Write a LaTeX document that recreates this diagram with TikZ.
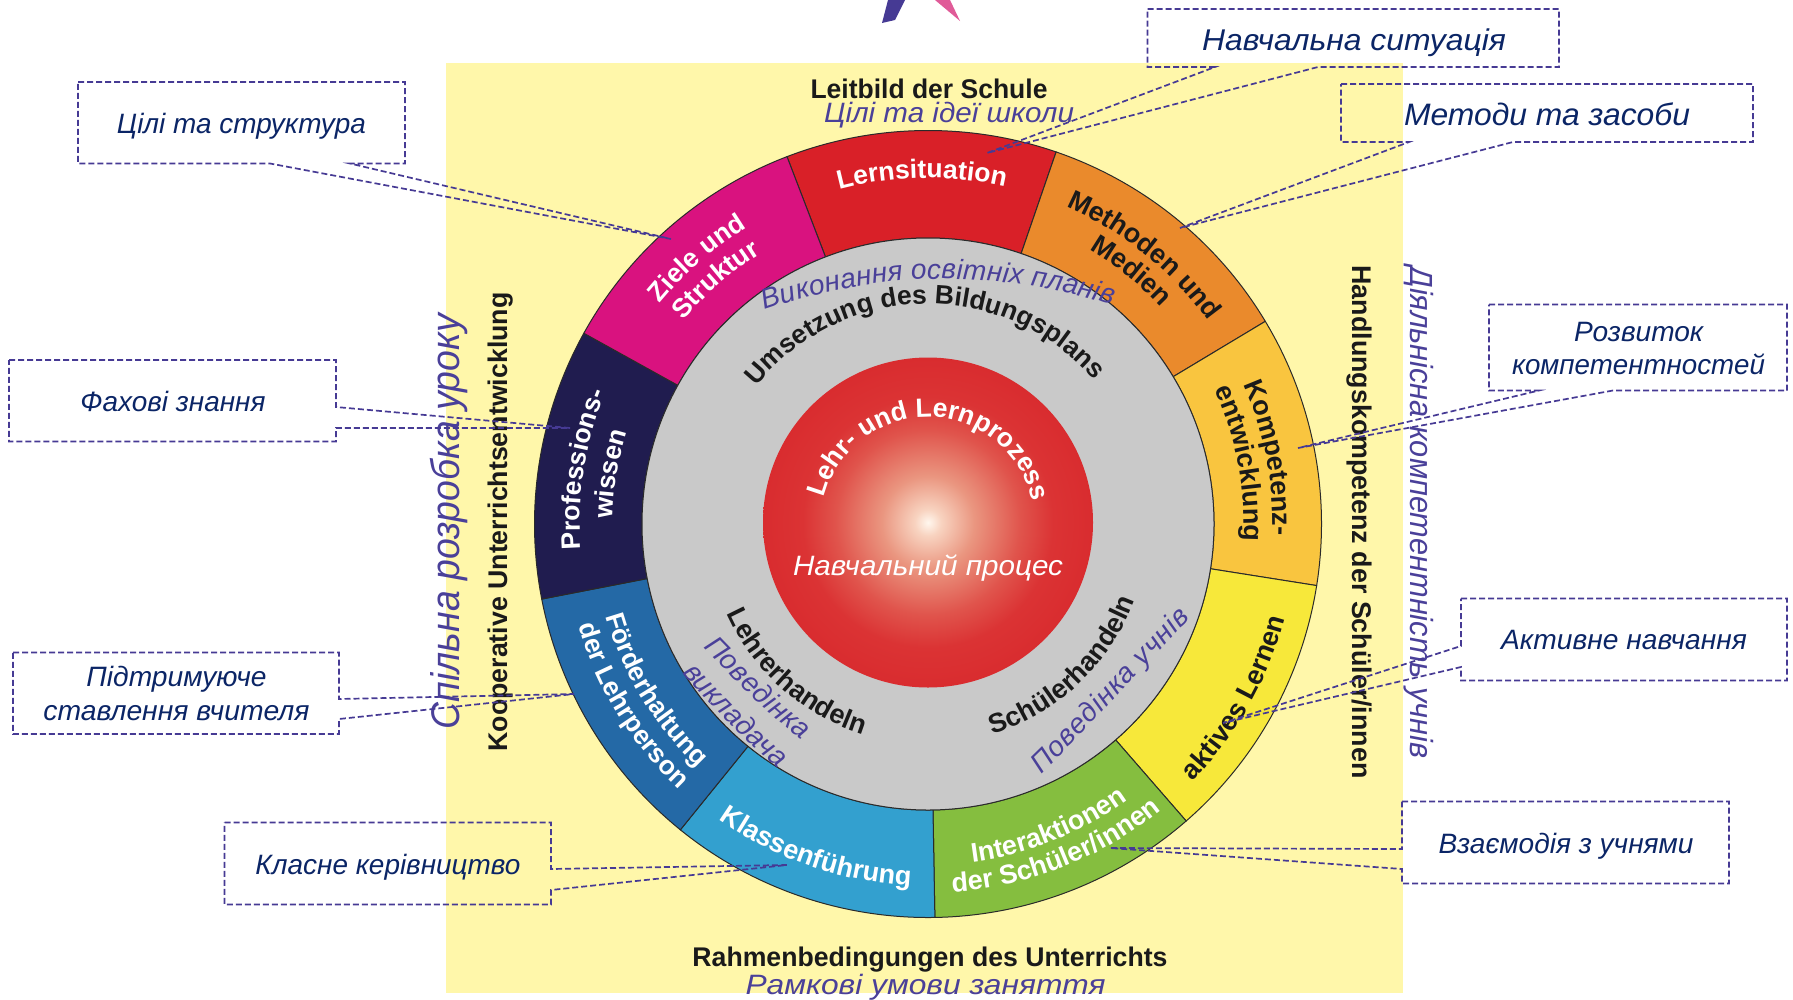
\documentclass[tikz,border=0pt]{standalone}
\usepackage{fontspec}
\usepackage{graphicx}
\setmainfont{Liberation Sans}
\usetikzlibrary{decorations.text}
\definecolor{bgyellow}{HTML}{FFF7AA}
\definecolor{violetline}{HTML}{463A94}
\definecolor{violettext}{HTML}{4A4099}
\definecolor{boxtext}{HTML}{0B2566}
\definecolor{ringgrey}{HTML}{C9C9C9}
\definecolor{edgeblack}{HTML}{2A2A2A}
\definecolor{segred}{HTML}{D92028}
\definecolor{segorange}{HTML}{EA8A2C}
\definecolor{segamber}{HTML}{F9C53F}
\definecolor{segyellow}{HTML}{F7E83A}
\definecolor{seggreen}{HTML}{85BE3F}
\definecolor{seglblue}{HTML}{33A0CF}
\definecolor{segblue}{HTML}{2469A6}
\definecolor{segnavy}{HTML}{201C4F}
\definecolor{segmagenta}{HTML}{D9127F}
\definecolor{logopink}{HTML}{E05B98}
\definecolor{textblack}{HTML}{1A1A1A}
\definecolor{c0}{HTML}{FFF7EE}
\definecolor{c1}{HTML}{F8D3C0}
\definecolor{c2}{HTML}{EA9680}
\definecolor{c3}{HTML}{E0544C}
\definecolor{c4}{HTML}{DB3334}
\definecolor{c5}{HTML}{D92C2F}
\pgfdeclareradialshading{coreshade}{\pgfpointorigin}{color(0bp)=(c0); color(2bp)=(c1); color(7bp)=(c2); color(14bp)=(c3); color(19bp)=(c4); color(25bp)=(c5); color(50bp)=(c5)}
\newcommand\fs[1]{\fontsize{#1}{#1}\selectfont}
\newcommand\fitw[2]{\resizebox{#1pt}{\height}{#2}}
% clockwise text: centre angle, baseline radius, format, text
\newcommand\cwtext[4]{\path[decorate,decoration={text along path,text align=center,text={|#3|#4}}] ({#1+85}:#2) arc ({#1+85}:{#1-85}:#2);}
\newcommand\ccwtext[4]{\path[decorate,decoration={text along path,text align=center,text={|#3|#4}}] ({#1-85}:#2) arc ({#1-85}:{#1+85}:#2);}
\newcommand\sector[3]{\filldraw[fill=#3,draw=edgeblack,line width=1pt] (#1:393.5) arc (#1:#2:393.5) -- (#2:286) arc (#2:#1:286) -- cycle;}
\newcommand\wbold{\color{white}\bfseries\fs{26.5}}
\newcommand\wboldb{\color{white}\bfseries\fs{27}}
\newcommand\kbold{\color{textblack}\bfseries\fs{27}}
\newcommand\kboldb{\color{textblack}\bfseries\fs{26.5}}
\newcommand\vital{\color{violettext}\itshape\fs{28}}
\tikzset{
  callout/.style={draw=violetline,line width=1.7pt,dash pattern=on 6pt off 3pt,line join=miter},
  germanlabel/.style={anchor=base,inner sep=0pt,text=textblack,font=\bfseries\fs{27}},
  violetlabel/.style={anchor=base,inner sep=0pt,text=violettext,font=\itshape\fs{28}},
  boxlabel/.style={anchor=base,inner sep=0pt,text=boxtext,font=\itshape\fs{28}},
  whitelabel/.style={anchor=base,inner sep=0pt,text=white,font=\itshape\fs{28}},
}
\begin{document}
\begin{tikzpicture}[x=1pt,y=-1pt]
\useasboundingbox (0,0) rectangle (1793,999);
% logo fragment
\fill[violetline] (882,23) -- (888,0) -- (905,0) -- (895,20) -- cycle;
\fill[logopink] (935,0) -- (950,0) -- (960,21) -- cycle;
% background
\fill[bgyellow] (446,63) rectangle (1403,993);
% wheel
\begin{scope}[shift={(928,524)},y=1pt]
  \sector{71}{111}{segred}
  \sector{31}{71}{segorange}
  \sector{-9}{31}{segamber}
  \sector{-49}{-9}{segyellow}
  \sector{-89}{-49}{seggreen}
  \sector{-129}{-89}{seglblue}
  \sector{-169}{-129}{segblue}
  \sector{151}{191}{segnavy}
  \sector{111}{151}{segmagenta}
  \filldraw[fill=ringgrey,draw=edgeblack,line width=1pt] (0,0) circle (286);
  \shade[shading=coreshade] (0,1.5) circle (165);
  \cwtext{91}{346}{\wbold}{Lernsituation}
  \cwtext{131}{347}{\wbold}{Ziele und}
  \cwtext{131}{318}{\wbold}{Struktur}
  \cwtext{51.2}{346}{\kbold}{Methoden und}
  \cwtext{51.2}{318}{\kbold}{Medien}
  \cwtext{11}{345}{\kbold}{Kompetenz-}
  \cwtext{11}{316}{\kbold}{entwicklung}
  \cwtext{171}{348}{\wbold}{Professions-}
  \cwtext{171}{315}{\wbold}{wissen}
  \ccwtext{-29.5}{369}{\kbold}{aktives Lernen}
  \ccwtext{-68.3}{341}{\wboldb}{Interaktionen}
  \ccwtext{-68.5}{369}{\wboldb}{der Schüler/innen}
  \ccwtext{251}{362}{\wboldb}{Klassenführung}
  \ccwtext{211.3}{335}{\wbold}{Förderhaltung}
  \ccwtext{211.5}{364}{\wbold}{der Lehrperson}
  \cwtext{89}{107}{\wbold}{Lehr- und Lernprozess}
  \cwtext{91}{220}{\kboldb}{Umsetzung des Bildungsplans}
  \ccwtext{228.5}{220}{\kbold}{Lehrerhandeln}
  \ccwtext{-46.5}{220}{\kbold}{Schülerhandeln}
\end{scope}
% curved translations
\path[decorate,decoration={text along path,text align=fit to path,text={|\vital|Виконання освітніх планів}}] (765,310) .. controls (880,270) and (995,269) .. (1112,305);
\path[decorate,decoration={text along path,text align=fit to path,text={|\vital|Поведінка}}] (703,647) .. controls (735,680) and (765,712) .. (802,740);
\path[decorate,decoration={text along path,text align=fit to path,text={|\vital|викладача}}] (682,673) .. controls (712,706) and (742,738) .. (777,767);
\path[decorate,decoration={text along path,text align=fit to path,text={|\vital|Поведінка учнів}}] (1041,774) .. controls (1090,727) and (1140,670) .. (1191,618);
% straight German and Ukrainian labels
\node[germanlabel] (leitbild) at (929,98.5) {\fitw{237}{Leitbild der Schule}};
\node[violetlabel] (leitbilduk) at (949,122) {\fitw{250}{Цілі та ідеї школи}};
\node[germanlabel] (rahmen) at (930,966) {\fitw{475}{Rahmenbedingungen des Unterrichts}};
\node[violetlabel] (rahmenuk) at (925.5,994) {\fitw{360}{Рамкові умови заняття}};
\node[whitelabel] (prozessuk) at (928,575) {\fitw{270}{Навчальний процес}};
\node[germanlabel,rotate=90] (koop) at (507,522) {\fitw{459}{Kooperative Unterrichtsentwicklung}};
\node[violetlabel,rotate=90,font=\itshape\fs{40}] (koopuk) at (459,521.5) {\fitw{415}{Спільна розробка уроку}};
\node[germanlabel,rotate=-90] (hand) at (1352,522) {\fitw{513}{Handlungskompetenz der Schüler/innen}};
\node[violetlabel,rotate=-90,font=\itshape\fs{32}] (handuk) at (1410,512.5) {\fitw{492}{Діяльнісна компетентність учнів}};
% callout tips
\coordinate (tipziele) at (671,239);
\coordinate (tipprof) at (570,428);
\coordinate (tiplern) at (987,153);
\coordinate (tipmeth) at (1180,228);
\coordinate (tipkomp) at (1298,448);
\coordinate (tipakt) at (1223,723);
\coordinate (tipinter) at (1110,848);
\coordinate (tipfoerd) at (574,694);
\coordinate (tipklass) at (787,865);
% callouts
\draw[callout] (78,82) -- (405,82) -- (405,163.5) -- (350,163.5) -- (tipziele) -- (270,163.5) -- (78,163.5) -- cycle;
\draw[callout] (9,360) -- (336,360) -- (336,407) -- (tipprof) -- (336,428) -- (336,441.5) -- (9,441.5) -- cycle;
\draw[callout] (1147.5,9) -- (1559,9) -- (1559,67) -- (1318,67) -- (tiplern) -- (1215,67) -- (1147.5,67) -- cycle;
\draw[callout] (1341,84) -- (1753,84) -- (1753,142) -- (1513,142) -- (tipmeth) -- (1409,142) -- (1341,142) -- cycle;
\draw[callout] (1489,304.5) -- (1787,304.5) -- (1787,390.5) -- (1613,390.5) -- (tipkomp) -- (1539,390.5) -- (1489,390.5) -- cycle;
\draw[callout] (1461,598.5) -- (1787,598.5) -- (1787,680.5) -- (1461,680.5) -- (1461,667) -- (tipakt) -- (1461,646) -- cycle;
\draw[callout] (1402,801.5) -- (1729,801.5) -- (1729,883.5) -- (1402,883.5) -- (1402,869) -- (tipinter) -- (1402,849) -- cycle;
\draw[callout] (13,652.5) -- (339,652.5) -- (339,699) -- (tipfoerd) -- (339,719) -- (339,734) -- (13,734) -- cycle;
\draw[callout] (224.5,822.5) -- (551,822.5) -- (551,869) -- (tipklass) -- (551,890) -- (551,904.5) -- (224.5,904.5) -- cycle;
% callout labels
\node[boxlabel] (zielebox) at (241.5,133) {\fitw{249}{Цілі та структура}};
\node[boxlabel] (profbox) at (173,411) {\fitw{185}{Фахові знання}};
\node[boxlabel,font=\itshape\fs{30}] (lernbox) at (1354,50) {\fitw{304}{Навчальна ситуація}};
\node[boxlabel,font=\itshape\fs{31}] (methbox) at (1547,125) {\fitw{286}{Методи та засоби}};
\node[boxlabel] (kompboxa) at (1638.7,341) {\fitw{129}{Розвиток}};
\node[boxlabel] (kompboxb) at (1638.5,374) {\fitw{253}{компетентностей}};
\node[boxlabel] (aktbox) at (1624,649) {\fitw{246}{Активне навчання}};
\node[boxlabel] (interbox) at (1566,853) {\fitw{255}{Взаємодія з учнями}};
\node[boxlabel] (foerdboxa) at (176.5,686) {\fitw{180}{Підтримуюче}};
\node[boxlabel] (foerdboxb) at (176.5,720) {\fitw{266}{ставлення вчителя}};
\node[boxlabel] (klassbox) at (388,874) {\fitw{265}{Класне керівництво}};
\end{tikzpicture}
\end{document}
